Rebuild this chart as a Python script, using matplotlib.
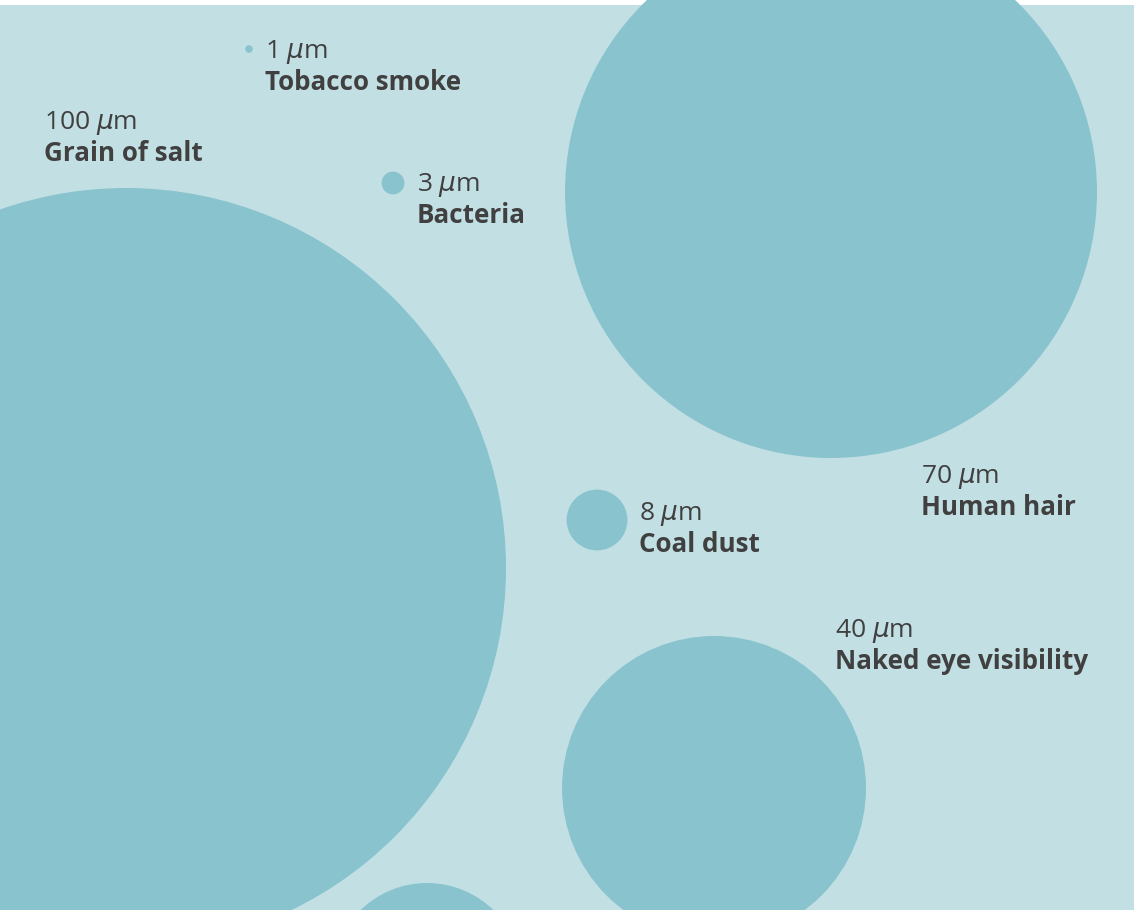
import matplotlib
matplotlib.use('Agg')
import matplotlib.pyplot as plt
from matplotlib.patches import Circle

# particle sizes in micrometres
names = ['Grain of salt', 'Human hair', 'Naked eye visibility', '', 'Coal dust', 'Bacteria', 'Tobacco smoke']
sizes = [100, 70, 40, 25, 8, 3, 1]

# layout of the packed bubbles (pixel-like units, y from top)
cx = [126, 831, 714, 427, 597, 393, 249]
cy = [568, 192, 788, 978, 520, 183, 49]
lx = [44, 921, 835, None, 639, 417, 265]
ly = [129, 483, 637, None, 520, 191, 58]

px_per_um = 3.8
bg = '#c2dfe4'
fill = '#89c4ce'
ink = '#404040'

plt.rcParams['font.family'] = ['Open Sans', 'DejaVu Sans']

fig = plt.figure(figsize=(11.34, 9.10), dpi=100)
ax = fig.add_axes([0, 0, 1, 905 / 910])
ax.set_facecolor(bg)
ax.set_xlim(0, 1134)
ax.set_ylim(910, 5)
ax.set_axis_off()
ax.add_patch(plt.Rectangle((0, 5), 1134, 905, color=bg, zorder=0))

for i in range(len(sizes)):
    c = Circle((cx[i], cy[i]), sizes[i] * px_per_um, color=fill, lw=0, clip_on=False, zorder=1)
    ax.add_patch(c)
    if lx[i] is None:
        continue
    ax.text(lx[i], ly[i], '%d $\\mu$m' % sizes[i], fontsize=19, color=ink, va='baseline', ha='left', zorder=2)
    ax.text(lx[i], ly[i] + 32, names[i], fontsize=18.7, fontweight='bold', color=ink, va='baseline', ha='left', zorder=2)

fig.savefig('out.png', dpi=100, facecolor='white')
